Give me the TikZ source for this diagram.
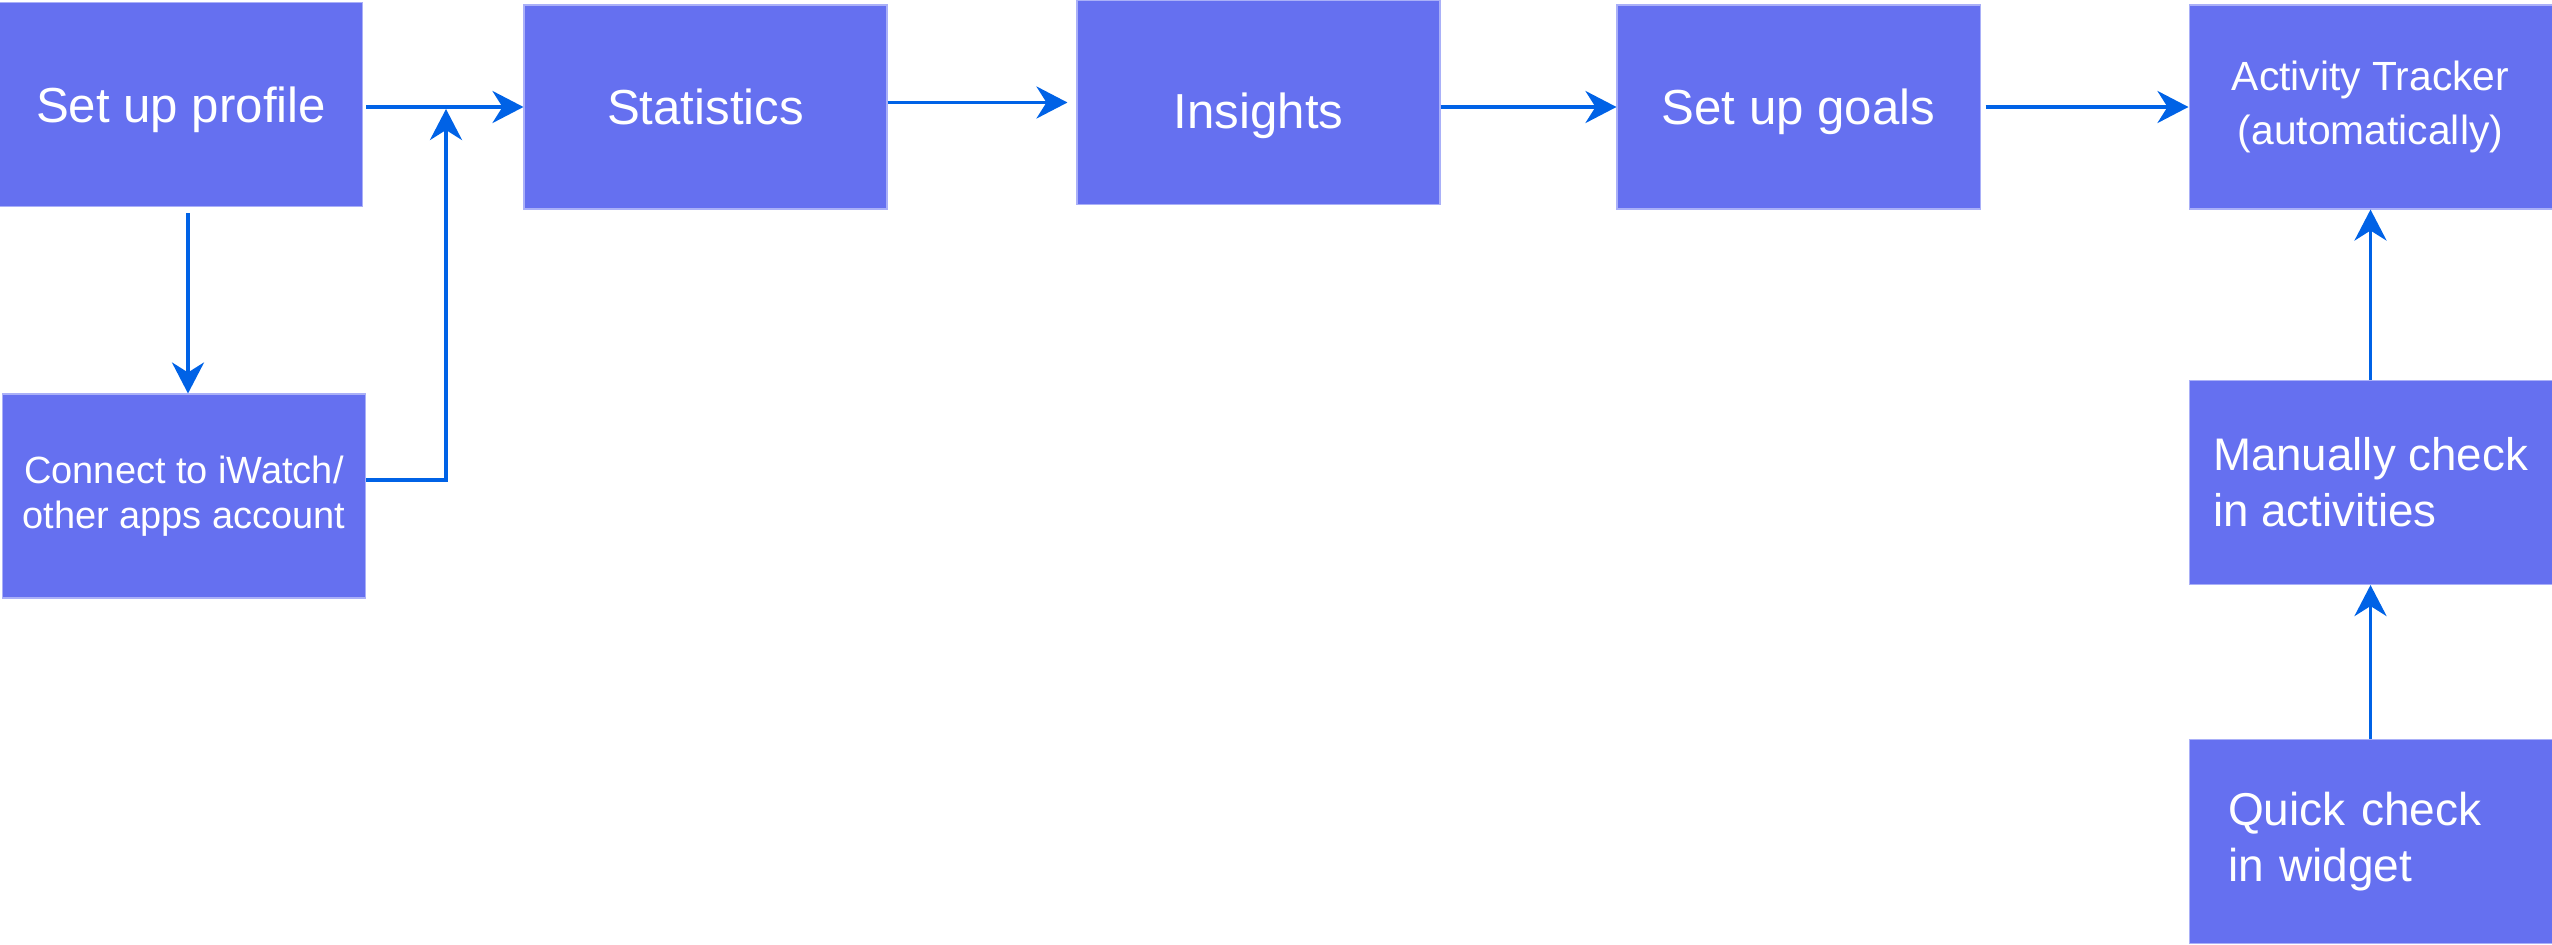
\documentclass[tikz,border=0pt]{standalone}
\usepackage{fontspec}
\setmainfont{Liberation Sans}
\usetikzlibrary{arrows.meta, positioning}
\definecolor{boxblue}{RGB}{101,112,240}
\definecolor{boxedge}{RGB}{170,176,248}
\definecolor{linkblue}{RGB}{0,98,230}
\newcommand{\lowtext}[2]{\raisebox{-#1}[\height][\depth]{#2}}

\begin{document}
\begin{tikzpicture}[
            node distance = 5cm,
            on grid,
            stepbox/.style = {rectangle, fill=boxblue, draw=boxedge, line width=0.3pt,
                minimum width=3.63cm, minimum height=2.04cm, inner sep=0pt,
                text=white, align=center, font=\fontsize{14}{17}\selectfont},
            link/.style = {-{Stealth[length=0.31cm, width=0.32cm, inset=0.1cm]},
                draw=linkblue, line width=1.1pt}
        ]
        \useasboundingbox (0,0) rectangle (25.52,-9.44);

        % top row
        \node[stepbox] (prof) at (1.81,-1.045) {\lowtext{0.05cm}{Set up profile}};
        \node[stepbox, right=5.245 of prof, yshift=-0.025cm] (stat) {Statistics};
        \node[stepbox, right=5.53 of stat, yshift=0.045cm] (ins) {\lowtext{0.13cm}{Insights}};
        \node[stepbox, right=5.40 of ins, yshift=-0.045cm] (goals) {\lowtext{0.05cm}{Set up goals}};
        \node[stepbox, right=5.72 of goals, font=\fontsize{11.6}{15.6}\selectfont] (track)
            {Activity Tracker\\(automatically)};

        % side boxes
        \node[stepbox, below=3.915 of prof, xshift=0.03cm, font=\fontsize{10.8}{12.8}\selectfont] (conn)
            {Connect to iWatch/\\other apps account};
        \node[stepbox, below=3.755 of track, align=left,
              font=\fontsize{13}{15.9}\selectfont] (manual) {Manually check\\in activities};
        \node[stepbox, below=3.59 of manual, text width=2.85cm, align=left,
              font=\fontsize{13.1}{15.9}\selectfont] (quick) {Quick check\\in widget};

        \coordinate (join) at (4.46,-1.09);

        \draw[link, shorten <=0.03cm] (prof.east |- stat.west) -- (stat.west);
        \draw[link] ([xshift=0.07cm, yshift=-0.06cm]prof.south) -- ([xshift=0.04cm]conn.north);
        \draw[link] ([yshift=0.16cm]conn.east) -| (join);
        \draw[link] (stat.east |- ins.west) -- ([xshift=-0.09cm]ins.west);
        \draw[link] (ins.east |- goals.west) -- (goals.west);
        \draw[link, shorten <=0.05cm] (goals.east) -- (track.west);
        \draw[link] (manual.north) -- (track.south);
        \draw[link] (quick.north) -- (manual.south);
    \end{tikzpicture}
\end{document}
